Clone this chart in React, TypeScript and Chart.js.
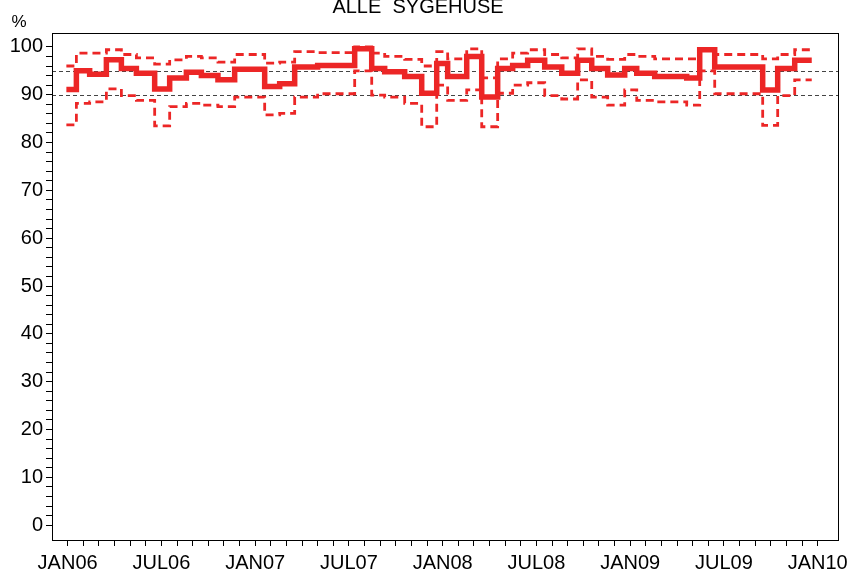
import React, { useEffect, useRef } from 'react';
import { Chart, registerables } from 'chart.js';

Chart.register(...registerables);

const chartTitle = 'ALLE  SYGEHUSE';
const yUnitLabel = '%';

// Step start positions, in months since JAN06
const stepStarts = [
  -0.08, 0.56, 1.41, 2.48, 3.44, 4.4, 5.57, 6.53, 7.6, 8.56, 9.62, 10.69,
  12.61, 13.57, 14.53, 16.0, 18.37, 19.46, 20.29, 21.57, 22.66, 23.62, 24.32,
  25.54, 26.5, 27.52, 28.48, 29.44, 30.53, 31.62, 32.64, 33.54, 34.56, 35.65,
  36.42, 37.57, 39.62, 40.45, 41.41, 44.48, 45.44, 46.53,
];
const seriesEnd = 47.62;

const mainValues = [
  91.1, 95.0, 94.3, 97.3, 95.5, 94.5, 91.2, 93.5, 94.7, 94.0, 93.1, 95.3,
  91.7, 92.3, 95.8, 96.1, 99.6, 95.5, 94.8, 93.8, 90.3, 96.5, 93.8,
  98.0, 89.5, 95.5, 96.1, 97.2, 95.8, 94.5, 97.2, 95.5, 94.1, 95.5,
  94.5, 93.8, 93.5, 99.4, 95.8, 91.0, 95.5, 97.2,
];
const upperValues = [
  96.0, 98.7, 98.7, 99.4, 98.4, 97.7, 96.4, 97.3, 98.0, 97.7, 96.8, 98.4,
  96.6, 96.8, 99.0, 98.8, 100.0, 98.7, 98.0, 97.4, 96.0, 99.0, 97.5,
  99.6, 93.5, 97.5, 98.7, 99.4, 98.4, 97.7, 99.6, 98.0, 97.4, 98.4,
  98.0, 97.5, 97.5, 99.6, 98.4, 97.5, 98.4, 99.4,
];
const lowerValues = [
  83.7, 88.2, 88.5, 91.2, 89.8, 88.8, 83.5, 87.5, 88.2, 87.8, 87.5, 89.5,
  85.8, 86.1, 89.5, 90.2, 95.0, 89.9, 89.5, 88.2, 83.3, 92.0, 88.8,
  91.0, 83.3, 90.3, 92.0, 92.5, 89.8, 89.1, 93.1, 89.5, 87.8, 91.0,
  88.8, 88.5, 87.8, 95.0, 90.2, 83.6, 89.8, 93.1,
];

const referenceLevels = [95, 90];

const xLabels = ['JAN06', 'JUL06', 'JAN07', 'JUL07', 'JAN08', 'JUL08', 'JAN09', 'JUL09', 'JAN10'];
const xMonthCount = 48;
const yMajorTicks = [0, 10, 20, 30, 40, 50, 60, 70, 80, 90, 100];

const RED = '#ec2626';
const FONT = '"Liberation Sans", Arial, sans-serif';

function toPoints(values: number[]) {
  const pts = stepStarts.map((x, i) => ({ x, y: values[i] }));
  pts.push({ x: seriesEnd, y: values[values.length - 1] });
  return pts;
}

const decorPlugin = {
  id: 'decor',
  beforeDatasetsDraw(chart: any) {
    const { ctx, chartArea, scales } = chart;
    ctx.save();
    ctx.strokeStyle = '#444444';
    ctx.lineWidth = 1.2;
    ctx.setLineDash([4, 3]);
    referenceLevels.forEach((v) => {
      const y = Math.round(scales.y.getPixelForValue(v)) + 0.5;
      ctx.beginPath();
      ctx.moveTo(chartArea.left, y);
      ctx.lineTo(chartArea.right, y);
      ctx.stroke();
    });
    ctx.restore();
  },
  afterDraw(chart: any) {
    const { ctx, chartArea } = chart;
    ctx.save();
    ctx.strokeStyle = '#000';
    ctx.lineWidth = 1;
    ctx.setLineDash([]);
    ctx.strokeRect(
      Math.round(chartArea.left) + 0.5,
      Math.round(chartArea.top) + 0.5,
      Math.round(chartArea.right - chartArea.left),
      Math.round(chartArea.bottom - chartArea.top)
    );
    ctx.fillStyle = '#000';
    ctx.font = `20px ${FONT}`;
    ctx.textAlign = 'center';
    ctx.textBaseline = 'alphabetic';
    ctx.fillText(chartTitle, 418, 13);
    ctx.font = `17px ${FONT}`;
    ctx.fillText(yUnitLabel, 19, 27);
    ctx.restore();
  },
};

export default function App() {
  const canvasRef = useRef<HTMLCanvasElement | null>(null);

  useEffect(() => {
    if (!canvasRef.current) return;
    const chart = new Chart(canvasRef.current, {
      type: 'line',
      data: {
        datasets: [
          {
            label: 'main',
            data: toPoints(mainValues),
            borderColor: RED,
            borderWidth: 5.5,
            stepped: true,
            pointRadius: 0,
            fill: false,
            borderJoinStyle: 'miter',
          },
          {
            label: 'upper',
            data: toPoints(upperValues),
            borderColor: RED,
            borderWidth: 2.8,
            borderDash: [8, 5],
            stepped: true,
            pointRadius: 0,
            fill: false,
          },
          {
            label: 'lower',
            data: toPoints(lowerValues),
            borderColor: RED,
            borderWidth: 2.8,
            borderDash: [8, 5],
            stepped: true,
            pointRadius: 0,
            fill: false,
          },
        ],
      },
      options: {
        responsive: false,
        animation: false,
        layout: { padding: { top: 33, right: 12, left: 0, bottom: 0 } },
        plugins: {
          legend: { display: false },
          tooltip: { enabled: false },
          title: { display: false },
        },
        scales: {
          x: {
            type: 'linear',
            min: -1,
            max: 49.3,
            afterBuildTicks: (scale: any) => {
              const t = [];
              for (let m = 0; m <= xMonthCount; m++) t.push({ value: m });
              scale.ticks = t;
            },
            afterFit: (scale: any) => {
              scale.height = 35;
              scale.paddingLeft = 0;
              scale.paddingRight = 0;
            },
            ticks: {
              autoSkip: false,
              maxRotation: 0,
              minRotation: 0,
              padding: 5,
              color: '#000',
              font: { family: FONT, size: 20 },
              callback: (v: any) => (v % 6 === 0 ? xLabels[v / 6] : ''),
            },
            grid: {
              display: true,
              drawOnChartArea: false,
              drawTicks: true,
              tickLength: 6,
              tickColor: '#000',
              color: '#000',
            },
            border: { display: true, color: '#000', width: 1 },
          },
          y: {
            type: 'linear',
            min: -3.1,
            max: 102.9,
            afterBuildTicks: (scale: any) => {
              const t = [];
              for (let v = 0; v <= 100; v += 2) t.push({ value: v });
              scale.ticks = t;
            },
            afterFit: (scale: any) => {
              scale.width = 52;
              scale.paddingTop = 0;
              scale.paddingBottom = 0;
            },
            ticks: {
              autoSkip: false,
              padding: 3,
              color: '#000',
              font: { family: FONT, size: 20 },
              callback: (v: any) => (yMajorTicks.includes(v) ? String(v) : ''),
            },
            grid: {
              display: true,
              drawOnChartArea: false,
              drawTicks: true,
              tickLength: 6,
              tickColor: '#000',
              color: '#000',
            },
            border: { display: true, color: '#000', width: 1 },
          },
        },
      },
      plugins: [decorPlugin],
    });
    return () => chart.destroy();
  }, []);

  return (
    <div style={{ position: 'absolute', left: 0, top: 0, width: 850, height: 575, background: '#fff' }}>
      <canvas ref={canvasRef} width={850} height={575} />
    </div>
  );
}
